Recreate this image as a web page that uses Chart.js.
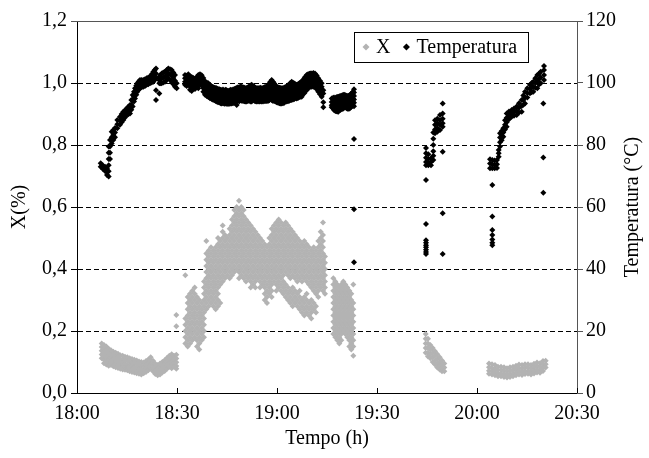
<!DOCTYPE html>
<html><head><meta charset="utf-8">
<script src="https://cdn.jsdelivr.net/npm/chart.js@4/dist/chart.umd.min.js"></script>
<style>html,body{margin:0;padding:0;background:#fff;}#wrap{width:649px;height:458px;}</style>
</head><body><div id="wrap"><canvas id="c" width="649" height="458"></canvas></div>
<script>
// ---- tick labels ----
const xTickLabels = ['18:00','18:30','19:00','19:30','20:00','20:30'];
const yLeftLabels = ['0,0','0,2','0,4','0,6','0,8','1,0','1,2'];
const yRightLabels = ['0','20','40','60','80','100','120'];
const seriesNames = ['X','Temperatura'];

// ---- X series: each row = [minutes after 18:00, readings at that time ...] ----
const xCluster1 = [
[7.4,.16,.148,.136,.124,.112],[8.1,.155,.143,.131,.119,.107,.096],[8.8,.15,.138,.126,.114,.102,.092],
[9.5,.143,.131,.119,.107,.095,.088],[10.2,.138,.126,.114,.102,.09],[10.9,.133,.121,.109,.097,.086],
[11.6,.13,.118,.106,.094,.083],[12.3,.127,.115,.103,.091,.081],[13.0,.122,.11,.098,.087,.078],
[13.7,.12,.108,.096,.085,.076],[14.4,.117,.105,.093,.082,.075],[15.1,.115,.103,.091,.08,.073],
[15.8,.112,.10,.088,.077,.07],[16.5,.11,.098,.086,.075,.068],[17.2,.107,.095,.083,.072,.066],
[17.9,.105,.093,.081,.07,.064],[18.6,.102,.09,.078,.068,.062],[19.3,.10,.088,.076,.066,.06],
[20.0,.098,.086,.074,.064],[20.7,.103,.091,.079,.068],[21.4,.108,.096,.084,.073],[22.1,.115,.103,.091,.08],
[22.8,.104,.092,.08,.07],[23.5,.094,.082,.07,.061],[24.2,.09,.078,.066,.057],[24.9,.095,.083,.071,.06],
[25.6,.10,.088,.076,.066],[26.3,.106,.094,.082,.071],[27.0,.113,.101,.089,.078],[27.7,.12,.108,.096,.085],
[28.4,.125,.113,.101,.089,.08],[29.1,.12,.108,.096,.085],[29.8,.123,.111,.099,.087,.078,.215,.252]
];
const xCluster2 = [
[32.5,.38,.24,.22,.20,.18,.16],[33.2,.31,.29,.27,.25,.23,.21,.19,.17,.15],
[33.9,.32,.30,.28,.26,.24,.22,.20,.18,.16],[34.6,.33,.31,.29,.27,.25,.23,.21,.19,.17],
[35.3,.34,.32,.30,.28,.26,.24,.22,.20,.18],[36.0,.31,.29,.27,.25,.23,.21,.19,.17,.15],
[36.7,.30,.28,.26,.24,.22,.20,.18,.16,.14],[37.4,.29,.27,.25,.23,.21,.19,.17],
[38.1,.36,.34,.32,.30,.28,.26,.24,.22,.20,.18],[38.8,.49,.45,.43,.41,.39,.37,.35,.33,.31,.29,.27],
[39.5,.46,.44,.42,.40,.38,.36,.34,.32,.30,.28],[40.2,.47,.45,.43,.41,.39,.37,.35,.33,.31,.29],
[40.9,.46,.44,.42,.40,.38,.36,.34,.32,.30,.28],[41.6,.47,.45,.43,.41,.39,.37,.35,.33,.31,.29,.27],
[42.3,.50,.48,.46,.44,.42,.40,.38,.36,.34,.32,.30,.28],[43.0,.49,.47,.45,.43,.41,.39,.37,.35,.29],
[43.7,.54,.52,.50,.48,.46,.44,.42,.40,.38,.36],[44.4,.51,.49,.47,.45,.43,.41,.39,.37],
[45.1,.50,.48,.46,.44,.42,.40,.38],[45.8,.53,.51,.49,.47,.45,.43,.41,.39,.37],
[46.5,.56,.54,.52,.50,.48,.46,.44,.42,.40,.38],[47.2,.59,.57,.55,.53,.51,.49,.47,.45,.43,.41,.39],
[47.9,.60,.58,.56,.54,.52,.50,.48,.46,.44,.42,.40],[48.6,.62,.59,.57,.55,.53,.51,.49,.47,.45,.43,.41,.39,.37],
[49.3,.60,.58,.56,.54,.52,.50,.48,.46,.44,.42,.40,.38],[50.0,.59,.57,.55,.53,.51,.49,.47,.45,.43,.41,.39,.37],
[50.7,.56,.54,.52,.50,.48,.46,.44,.42,.40,.38,.36],[51.4,.55,.53,.51,.49,.47,.45,.43,.41,.39,.37],
[52.1,.54,.52,.50,.48,.46,.44,.42,.40,.38,.36,.34],[52.8,.53,.51,.49,.47,.45,.43,.41,.39,.37,.35],
[53.5,.52,.50,.48,.46,.44,.42,.40,.38,.36,.34],[54.2,.51,.49,.47,.45,.43,.41,.39,.37],
[54.9,.50,.48,.46,.44,.42,.40,.38,.36,.34],[55.6,.49,.47,.45,.43,.41,.39,.37,.35],
[56.3,.48,.46,.44,.42,.40,.38,.36,.34,.32,.30],[57.0,.47,.45,.43,.41,.39,.37,.35,.33,.31,.29],
[57.7,.50,.48,.46,.44,.42,.40,.38,.36,.34,.32],[58.4,.53,.51,.49,.47,.45,.43,.41,.39,.37,.35,.33,.31],
[59.1,.54,.52,.50,.48,.46,.44,.42,.40,.38,.36],[59.8,.55,.53,.51,.49,.47,.45,.43,.41,.39,.37,.35,.33],
[60.5,.56,.54,.52,.50,.48,.46,.44,.42,.40,.38,.36,.34],[61.2,.55,.53,.51,.49,.47,.45,.43,.41,.39,.37,.35,.33],
[61.9,.54,.52,.50,.48,.46,.44,.42,.40,.38,.36,.34,.32],[62.6,.55,.53,.51,.49,.47,.45,.43,.41,.39,.35,.33,.31],
[63.3,.54,.52,.50,.48,.46,.44,.42,.40,.38,.34,.32,.30],[64.0,.53,.51,.49,.47,.45,.43,.41,.39,.37,.33,.31,.29],
[64.7,.52,.50,.48,.46,.44,.42,.40,.38,.34,.32,.30,.28],[65.4,.51,.49,.47,.45,.43,.41,.39,.37,.33,.31,.29],
[66.1,.50,.48,.46,.44,.42,.40,.38,.36,.32,.30,.28],[66.8,.49,.47,.45,.43,.41,.39,.37,.33,.31,.29,.27],
[67.5,.48,.46,.44,.42,.40,.38,.36,.30,.28,.26],[68.2,.49,.47,.45,.43,.41,.39,.37,.31,.29,.27,.25],
[68.9,.48,.46,.44,.42,.40,.38,.36,.32,.30,.28,.26],[69.6,.47,.45,.43,.41,.39,.37,.35,.29,.27,.25],
[70.3,.46,.44,.42,.40,.38,.36,.34,.30,.28,.26,.24],[71.0,.47,.45,.43,.41,.39,.37,.35,.33,.29,.27],
[71.7,.46,.44,.42,.40,.38,.36,.34,.32,.28,.26],[72.4,.49,.47,.45,.43,.41,.39,.37,.35,.33,.31],
[73.1,.52,.50,.48,.46,.44,.42,.40,.38,.36,.34],[73.8,.55,.51,.49,.47,.45,.43,.41,.39,.37,.35,.33],
[74.4,.44,.42,.40,.38,.36,.34,.32]
];
const xCluster3 = [
[76.9,.37,.35,.33,.31,.29,.27,.25,.23,.21,.19],[77.5,.36,.34,.32,.30,.28,.26,.24,.22,.20,.18],
[78.1,.35,.33,.31,.29,.27,.25,.23,.21,.19,.17],[78.7,.34,.32,.30,.28,.26,.24,.22,.20,.18,.16],
[79.3,.35,.33,.31,.29,.27,.25,.23,.21,.19,.17],[79.9,.36,.34,.32,.30,.28,.26,.24,.22,.20],
[80.5,.35,.33,.31,.29,.27,.25,.23,.21,.19],[81.1,.34,.32,.30,.28,.26,.24,.22,.20,.18],
[81.7,.33,.31,.29,.27,.25,.23,.21,.19,.17,.15],[82.3,.32,.30,.28,.26,.24,.22,.20,.18,.16,.14],
[82.9,.35,.29,.27,.25,.23,.21,.19,.17,.15,.12]
];
const xCluster4 = [
[104.6,.19,.175,.16,.145,.13],[105.3,.175,.16,.145,.13,.118],[106.0,.155,.14,.125,.112],
[106.7,.145,.13,.115,.10],[107.4,.135,.12,.105,.092],[108.1,.125,.11,.095,.082],
[108.8,.115,.10,.088,.076],[109.5,.105,.092,.08,.07],[110.2,.095,.082,.07]
];
const xCluster5 = [
[123.6,.095,.083,.072,.062],[124.5,.093,.081,.07,.06],[125.4,.09,.078,.067,.057],[126.3,.085,.074,.063,.054],
[127.2,.085,.074,.063,.054],[128.1,.083,.072,.061,.052],[129.0,.08,.069,.058,.05],[129.9,.083,.072,.061,.052],
[130.8,.085,.074,.063,.054],[131.7,.088,.077,.066,.057],[132.6,.092,.081,.07,.06],[133.5,.09,.079,.068,.058],
[134.4,.093,.082,.071,.061],[135.3,.093,.082,.071,.062],[136.2,.09,.079,.068,.06],[137.1,.094,.083,.072,.063],
[138.0,.098,.087,.076,.066],[138.9,.096,.085,.074,.065],[139.8,.103,.092,.081,.071],[140.6,.104,.093,.082]
];

// ---- Temperatura series (°C): each row = [minutes after 18:00, readings ...] ----
const tempSegA = [
[7.1,74.1,73.0],[7.7,73.5,72.3],[8.4,73.0,71.6],[9.0,72.5,71.2,70.3],[9.5,79.5,77.5,75.5,73.5,71.5,69.8],
[9.9,81.6,79.5,77.5,75.5],[10.4,84.3,82.5,80.5],[10.9,84.8,83.2,81.6],[11.4,85.5,84,82.5],
[12.1,88.1,86.7,85.4],[12.9,89.1,87.8,86.5],[13.4,90,88.6,87.3],[13.9,90.7,89.4,88.1],[14.4,91.2,90,88.9],
[14.9,91.8,90.7,89.7],[15.4,92.3,91,89.9],[15.9,92.9,91.5,90.2],[16.3,94.5,93,91.4],[16.7,96.1,94.3,92.4],
[17.1,97.2,95.6,94],[17.4,98.3,96.7,95.0],[17.8,99.2,97.8,96.2],[18.1,99.9,98.5,97.2],[18.5,100.5,99.1,97.8],
[18.9,101.0,99.7,98.3],[19.4,101,99.8,98.6],[19.9,101.0,99.9,98.8],[20.4,101.2,100.1,99],[20.9,101.5,100.4,99.4],
[21.4,101.8,100.7,99.6],[21.9,102.0,101.0,99.9],[22.4,102.8,101.5,100.2],[22.9,103.6,102.0,100.4],
[23.3,104.2,102.6,101],[23.7,104.7,103.1,101.5,97.7,94.5],[24.7,102.0,100.9,99.9,96.6],[25.0,102.6,101.2,99.9],
[25.4,103.1,101.5,99.9],[25.9,103.4,101.8,100.2],[26.4,103.6,102,100.4],[26.9,104.2,102.6,101],
[27.4,104.7,103.1,101.5],[27.9,104.4,102.8,101],[28.4,104.2,102.4,100.4],[28.9,103.4,101.6,99.6],
[29.4,102.6,100.7,98.8],[29.9,99.9,98.3]
];
const tempSegB = [
[32.4,102.6,101.5,100.4,99.4],[32.9,102.3,101.2,100.1,99.0],[33.4,102.8,101.7,100.6,99.5],
[33.9,102.2,101.1,100,98.9,97.8],[34.4,101.9,100.8,99.7,98.6,97.4],[34.9,101.6,100.5,99.4,98.3],
[35.4,101.4,100.3,99.2,98.1],[35.9,101.9,100.8,99.7,98.6],[36.4,102.6,101.5,100.4,99.3,98.3],
[36.9,102.8,101.7,100.6,99.5],[37.4,102.5,101.4,100.3,99.2],[37.9,101.6,100.5,99.4,98.3,97.2],
[38.4,100.6,99.5,98.4,97.3,96.2],[38.9,100.2,99.1,98,96.9,95.8],[39.4,99.9,98.8,97.7,96.6,95.5],
[39.9,99.4,98.3,97.2,96.1,95.1],[40.4,98.9,97.8,96.7,95.6,94.8],[40.8,98.7,97.6,96.5,95.4,94.6],
[41.2,98.5,97.4,96.3,95.2,94.4],[41.6,98.4,97.3,96.2,95.1,94.2],[41.9,98.3,97.2,96.1,95.0,94.0],
[42.3,98.1,97,95.9,94.8,93.8],[42.7,98,96.9,95.8,94.7,93.7],[43.1,97.8,96.7,95.6,94.5,93.5],
[43.4,97.7,96.6,95.5,94.4,93.4],[43.8,97.9,96.8,95.7,94.6,93.5],[44.2,97.6,96.5,95.4,94.3,93.3],
[44.6,97.8,96.7,95.6,94.5,93.4],[44.9,97.7,96.6,95.5,94.4,93.3],[45.3,97.4,96.3,95.2,94.1,93.2],
[45.7,97.6,96.5,95.4,94.3,93.3],[46.1,97.8,96.7,95.6,94.5,93.4],[46.4,97.7,96.6,95.5,94.4,93.4],
[46.8,97.9,96.8,95.7,94.6,93.5],[47.2,98.1,97,95.9,94.8,93.6],[47.6,98.2,97.1,96,94.9,93.8],
[47.9,98.4,97.3,96.2,95.1,94,92.9],[48.3,98.6,97.5,96.4,95.3,94.2],[48.7,98.5,97.4,96.3,95.2,94.1],
[49.0,98.9,97.8,96.7,95.6,94.5],[49.4,98.8,97.7,96.6,95.5,94.3],[49.8,98.6,97.5,96.4,95.3,94.2],
[50.2,98.5,97.4,96.3,95.2,94.1],[50.5,98.3,97.2,96.1,95,94],[50.9,98.4,97.3,96.2,95.1,94.0],
[51.3,98.6,97.5,96.4,95.3,94.2],[51.7,98.9,97.8,96.7,95.6,94.4],[52.0,99.2,98.1,97,95.9,94.8,94],
[52.4,99.4,98.3,97.2,96.1,95,94],[52.8,99,97.9,96.8,95.7,94.6],[53.2,98.8,97.7,96.6,95.5,94.3],
[53.5,98.5,97.4,96.3,95.2,94.1],[53.9,98.3,97.2,96.1,95,94],[54.3,98.4,97.3,96.2,95.1,94],
[54.7,98.3,97.2,96.1,95,94],[55.0,98.5,97.4,96.3,95.2,94.1],[55.4,98.3,97.2,96.1,95,94],
[55.8,98.4,97.3,96.2,95.1,94],[56.2,98.6,97.5,96.4,95.3,94.2],[56.5,98.7,97.6,96.5,95.4,94.2],
[56.9,98.8,97.7,96.6,95.5,94.2],[57.3,99.3,98.2,97.1,96,94.9,94.2],[57.7,99.8,98.7,97.6,96.5,95.4,94.4],
[58.0,100.4,99.3,98.2,97.1,96,94.9],[58.4,101,99.9,98.8,97.7,96.6,95.5,94.5],[58.8,100.4,99.3,98.2,97.1,96,94.9,94.2],
[59.2,99.8,98.7,97.6,96.5,95.4,94.3],[59.5,99.3,98.2,97.1,96,94.9,94],[59.9,98.8,97.7,96.6,95.5,94.4,93.8],
[60.3,98.6,97.5,96.4,95.3,94.2,93.6],[60.7,98.5,97.4,96.3,95.2,94.1,93.5],[61.0,98.4,97.3,96.2,95.1,94,93.4],
[61.4,98.3,97.2,96.1,95,93.9,93.4],[61.8,98.4,97.3,96.2,95.1,94,93.5],[62.2,98.5,97.4,96.3,95.2,94.1,93.6],
[62.5,98.7,97.6,96.5,95.4,94.3],[62.9,98.8,97.7,96.6,95.5,94.4,94],[63.3,99.2,98.1,97,95.9,94.8,94.1],
[63.7,99.5,98.4,97.3,96.2,95.1,94.3],[64.0,100,98.9,97.8,96.7,95.6,94.5],[64.4,100.4,99.3,98.2,97.1,96,94.9,94.5],
[64.8,100.1,99,97.9,96.8,95.7,94.7],[65.2,99.8,98.7,97.6,96.5,95.4,94.8],[65.5,99.6,98.5,97.4,96.3,95.2],
[65.9,99.4,98.3,97.2,96.1,95.0],[66.3,99.6,98.5,97.4,96.3,95.2],[66.7,99.9,98.8,97.7,96.6,95.5],
[67.0,100.2,99.1,98,96.9,95.6],[67.4,100.4,99.3,98.2,97.1,96,95.6],[67.8,101,99.9,98.8,97.7,96.6],
[68.2,101.5,100.4,99.3,98.2,97.1,96.7],[68.5,102,100.9,99.8,98.7,97.6],[68.9,102.6,101.5,100.4,99.3,98.2,97.7],
[69.3,102.8,101.7,100.6,99.5,98.4],[69.7,103,101.9,100.8,99.7,98.6],[70.0,103.1,102,100.9,99.8,98.8],
[70.4,103.1,102,100.9,99.8,98.8],[70.9,103.2,102.1,101,99.9,98.8],[71.4,103.1,102,100.9,99.8,98.8],
[71.9,102.4,101.3,100.2,99.1,98],[72.4,101.5,100.4,99.3,98.2,97.2],[72.9,100.7,99.6,98.5,97.4,96.4],
[73.4,99.9,98.8,97.7,96.6,95.6],[73.9,97.7,96.6,93.8,92.2]
];
const tempSegC = [
[76.4,95,93.9,92.8,92.2],[76.8,95.2,94.1,93,91.9],[77.1,95.3,94.2,93.1,92,91.3],[77.5,95.1,94,92.9,91.8,91],
[77.8,95.4,94.3,93.2,92.1,90.9],[78.1,95.5,94.4,93.3,92.2,91.1,90.8],[78.4,95.6,94.5,93.4,92.3,91.2,90.7],
[78.8,95.7,94.6,93.5,92.4,91.3],[79.1,95.8,94.7,93.6,92.5,91.4],[79.5,96,94.9,93.8,92.7,91.6],
[79.8,96.1,95,93.9,92.8,91.7],[80.1,96.2,95.1,94,92.9,92],[80.4,96.1,95,93.9,92.8,92.4],
[80.8,95.9,94.8,93.7,92.6,91.9],[81.1,95.8,94.7,93.6,92.5,91.7],[81.5,95.9,94.8,93.7,92.6,91.7],
[81.8,96,94.9,93.8,92.7,91.8],[82.1,96.4,95.3,94.2,93.1,92.2],[82.4,96.7,95.6,94.5,93.4,92.4],
[82.8,97.2,96.1,95,93.9,92.8],[83.1,98.0,96.9,95.8,94.7,93.6,92.5,81.9,59.3,42.2]
];
const tempSegD = [
[104.7,79.0,77.3,75.9,74.5,73.5,68.7,54.5,49.3,48.5,47.7,47,46.2,45.5,44.8],[105.4,77,75.5,74.2,73.5],
[106.2,75.7,74.5,73.5],[106.9,84,82,80,78,76.5,75.2],[107.4,88,86.5,85,83.8],[108.1,88.5,87,85.5,84.3],
[108.9,89.7,88,86.5,84.8],[109.7,93.4,90.2,88.5,87,85.9,77.8,58,44.8]
];
const tempSegE = [
[123.9,75.4,74,72.5],[124.6,75.2,73.8,72.5,67.1,56.9,52.6,51,49.5,48.5,47.7],[125.3,75,73.6,72.5],
[126.0,75.2,73.8,72.6],[126.5,78.4,77.3,76.2],[126.9,83.8,82.4,80.9,79.5],[127.4,84.5,83,81.5],
[127.9,85.4,84,82.7],[128.4,88,86.5,85],[128.9,90.2,88.8,87.3,85.9],[129.6,90.8,89.5,88.3],
[130.4,91.3,90.2,89.1],[131.1,91.8,90.6,89.4],[131.9,92.4,91,89.7],[132.6,93.5,92,90.5],
[133.4,94.5,92.6,90.7],[133.9,96,94.5,93],[134.4,97.2,95.3,93.4],[135.1,98.3,96.8,95.3],
[135.9,99.4,98.0,96.7],[136.4,100,98.6,97],[136.9,100.4,98.8,97.2],[137.5,101.5,100,98.5],
[138.1,102.6,100.5,98.3],[138.6,103,101.3,99.5],[139.1,103.6,101.8,99.9],[139.9,93.4,76,64.6],
[140.1,105.5,104.2,102.6,101]
];

// ---- build point tables for the library ----
const toPoints = rows => rows.flatMap(r => r.slice(1).map(v => ({x: r[0], y: v})));
const xPoints = [xCluster1, xCluster2, xCluster3, xCluster4, xCluster5].flatMap(toPoints);
const tPoints = [tempSegA, tempSegB, tempSegC, tempSegD, tempSegE].flatMap(toPoints);

const FONT = "'Liberation Serif','Times New Roman',serif";
Chart.defaults.font.family = FONT;
Chart.defaults.font.size = 20;
Chart.defaults.color = '#000';

const framePlugin = {
  id: 'frame',
  afterDatasetsDraw(chart) {
    const {ctx, chartArea: {left, right, top, bottom}, scales: {x}} = chart;
    ctx.save();
    ctx.lineWidth = 1;
    ctx.strokeStyle = '#555';
    ctx.beginPath();
    ctx.moveTo(left - 6, top + 0.5); ctx.lineTo(right, top + 0.5);
    ctx.stroke();
    ctx.strokeStyle = '#000';
    ctx.beginPath();
    x.ticks.forEach(t => {
      const px = Math.round(x.getPixelForValue(t.value)) + 0.5;
      ctx.moveTo(px, bottom); ctx.lineTo(px, bottom - 5);
    });
    ctx.stroke();
    ctx.restore();
  },
  afterDraw(chart) {
    const {ctx, chartArea: {top, bottom}} = chart;
    ctx.save();
    ctx.font = '20px ' + FONT;
    ctx.fillStyle = '#000';
    ctx.textAlign = 'center';
    ctx.textBaseline = 'middle';
    ctx.translate(633, (top + bottom) / 2);
    ctx.rotate(-Math.PI / 2);
    ctx.fillText('Temperatura (°C)', 0, 0);
    ctx.restore();
    // boxed legend
    const bx = 354, by = 32, bw = 174, bh = 30, cy = by + bh / 2;
    ctx.save();
    ctx.fillStyle = '#fff';
    ctx.fillRect(bx, by, bw, bh);
    ctx.strokeStyle = '#000'; ctx.lineWidth = 1;
    ctx.strokeRect(bx + 0.5, by + 0.5, bw, bh);
    ctx.font = '20px ' + FONT;
    ctx.textBaseline = 'middle'; ctx.textAlign = 'left';
    let cx = bx + 12;
    chart.data.datasets.forEach((ds, i) => {
      ctx.fillStyle = ds.backgroundColor;
      ctx.beginPath();
      ctx.moveTo(cx, cy - 3.5); ctx.lineTo(cx + 3.5, cy); ctx.lineTo(cx, cy + 3.5); ctx.lineTo(cx - 3.5, cy);
      ctx.closePath(); ctx.fill();
      ctx.fillStyle = '#000';
      ctx.fillText(ds.label, cx + 10, cy + 1);
      cx += 10 + ctx.measureText(ds.label).width + 16;
    });
    ctx.restore();
  }
};

new Chart(document.getElementById('c'), {
  type: 'scatter',
  data: {
    datasets: [
      { label: seriesNames[0], data: xPoints, yAxisID: 'y', order: 2,
        pointStyle: 'rectRot', pointRadius: 3, pointBorderWidth: 0, borderWidth: 0,
        backgroundColor: '#b3b3b3', borderColor: '#b3b3b3', pointHoverRadius: 3 },
      { label: seriesNames[1], data: tPoints, yAxisID: 'y2', order: 1,
        pointStyle: 'rectRot', pointRadius: 3, pointBorderWidth: 0, borderWidth: 0,
        backgroundColor: '#000', borderColor: '#000', pointHoverRadius: 3 }
    ]
  },
  options: {
    responsive: false, animation: false, devicePixelRatio: 1,
    events: [],
    layout: { padding: { top: 21, left: 0, right: 0, bottom: 0 } },
    plugins: { legend: { display: false }, tooltip: { enabled: false } },
    scales: {
      x: {
        type: 'linear', min: 0, max: 150,
        ticks: { stepSize: 30, padding: 9, maxRotation: 0, autoSkip: false,
                 callback: (v, i) => xTickLabels[i] },
        grid: { display: false, drawTicks: false },
        border: { display: true, color: '#000', width: 1 },
        title: { display: true, text: 'Tempo (h)', padding: { top: 0, bottom: 7 } },
        afterFit: s => { s.height = 65; }
      },
      y: {
        position: 'left', min: 0, max: 1.2,
        ticks: { stepSize: 0.2, padding: 4, callback: (v, i) => yLeftLabels[i] },
        grid: { lineWidth: 1, drawTicks: true, tickLength: 6, tickColor: '#000', tickWidth: 1, tickBorderDash: [],
                color: c => (c.index === 0 || c.index === 6) ? 'rgba(0,0,0,0)' : '#000' },
        border: { display: true, color: '#000', width: 1, dash: [5, 3] },
        title: { display: true, text: 'X(%)', padding: { top: 8, bottom: 0 } },
        afterFit: s => { s.width = 77; }
      },
      y2: {
        position: 'right', min: 0, max: 120,
        ticks: { stepSize: 20, padding: 3, callback: (v, i) => yRightLabels[i] },
        grid: { drawOnChartArea: false, drawTicks: true, tickLength: 6, tickColor: '#555', tickBorderDash: [] },
        border: { display: true, color: '#555', width: 1 },
        afterFit: s => { s.width = 72; }
      }
    }
  },
  plugins: [framePlugin]
});
</script>
</body></html>
